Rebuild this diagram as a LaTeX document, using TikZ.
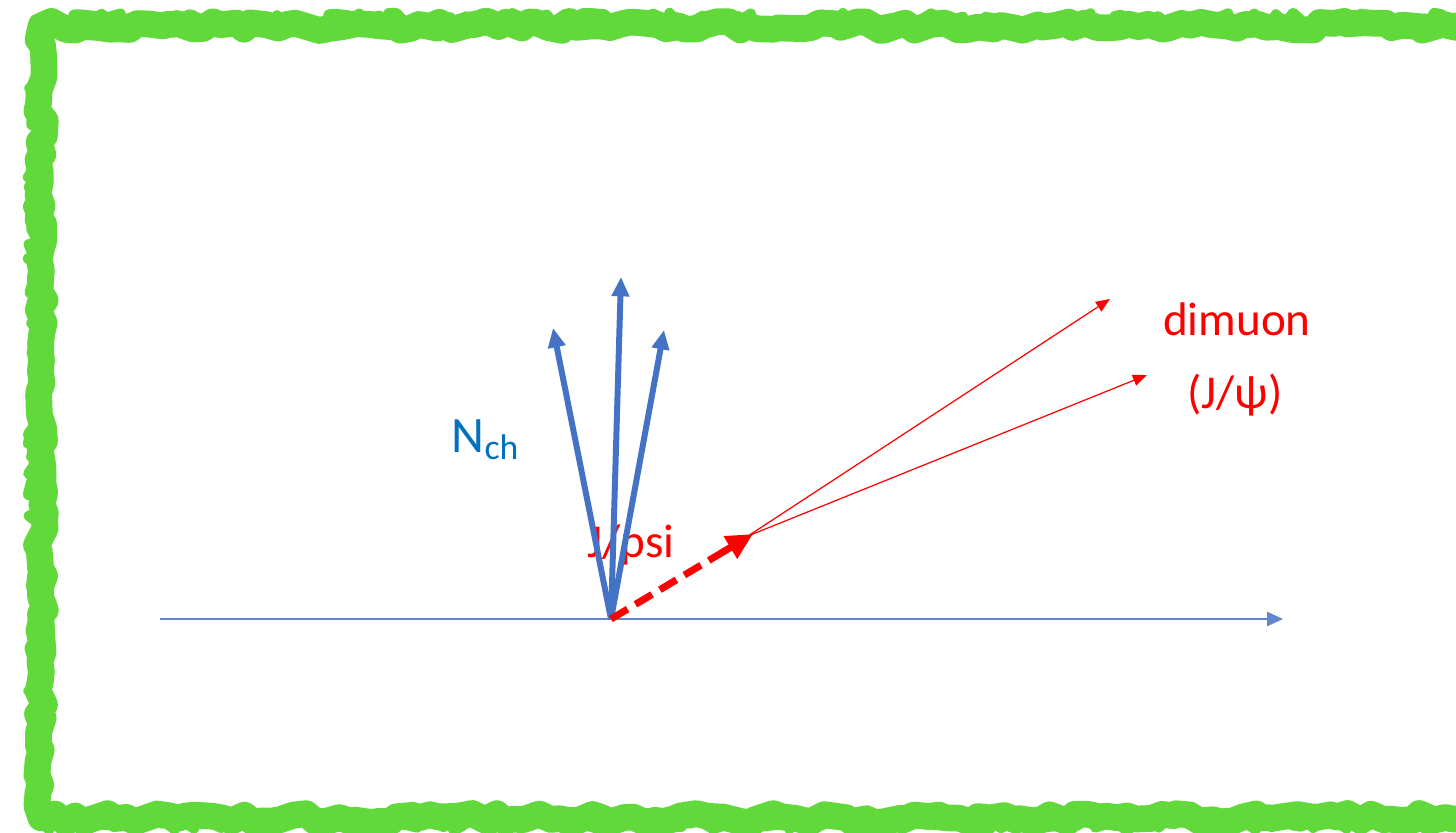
\documentclass[tikz,border=0pt]{standalone}
\usepackage{fontspec}
\setmainfont{Carlito}
\usepackage{xcolor}
\usetikzlibrary{arrows.meta, calc, decorations.pathmorphing}
\definecolor{chalkgreen}{HTML}{62D93B}
\definecolor{trackblue}{HTML}{4472C4}
\definecolor{labelblue}{HTML}{0070C0}
\tikzset{
  chalk/.style={draw=chalkgreen, line width=7.6pt, line join=round, decorate, decoration={random steps, segment length=3pt, amplitude=1.3pt}},
  axis/.style={draw=trackblue!85, line width=0.5pt, -{Triangle[length=4.5pt, width=4pt]}},
  track/.style={draw=trackblue, line width=1.7pt, -{Triangle[length=5.5pt, width=4.8pt]}},
  jpsi/.style={draw=red, line width=2pt, dash pattern=on 5.5pt off 2.6pt, shorten >=6pt},
  jpsitip/.style={draw=red, line width=2pt, -{Triangle[length=7.5pt, width=7pt]}},
  muon/.style={draw=red, line width=0.35pt, -{Triangle[length=4pt, width=3.2pt]}},
  lbl/.style={inner sep=0pt, font=\fontsize{13.4}{15}\selectfont},
}

\begin{document}
\begin{tikzpicture}[x=0.01cm, y=-0.01cm]
  \clip (0,0) rectangle (1456,833);
  \fill[white] (0,0) rectangle (1456,833);
  % chalk frame, open on the right
  \draw[chalk] (1520,26) -- (41,26) -- (41,818) -- (1520,818);
  \draw[chalk, line width=3pt, decoration={random steps, segment length=2pt, amplitude=2pt}] (1520,20) -- (35,20) -- (35,823) -- (1520,823);
  % labels
  \node[lbl, text=red, anchor=base west] (jlbl) at (587,557) {J/psi};
  \node[lbl, text=labelblue, anchor=base west, font=\fontsize{14.5}{16}\selectfont] (nch) at (451,452) {N\textsubscript{ch}};
  \node[lbl, text=red, anchor=base] (dimu) at (1237,335) {dimuon};
  \node[lbl, text=red, anchor=base] (psi) at (1235,408) {(J/ψ)};
  % beam axis and tracks
  \coordinate (ax0) at (160,619);
  \coordinate (ax1) at (1283,619);
  \coordinate (O) at (611,619);
  \draw[axis] (ax0) -- (ax1);
  \coordinate (t1) at (553,328);
  \coordinate (t2) at (621,277);
  \coordinate (t3) at (664,330);
  \foreach \t in {t1, t2, t3} \draw[track] (O) -- (\t);
  \coordinate (J) at (753,534);
  \coordinate (V) at (748,536);
  \coordinate (mu1) at (1110,299);
  \coordinate (mu2) at (1147,375);
  \draw[jpsi] (O) -- (J);
  \draw[jpsitip] ($(J)!10pt!(O)$) -- (J);
  \foreach \m in {mu1, mu2} \draw[muon] (V) -- (\m);
\end{tikzpicture}
\end{document}
